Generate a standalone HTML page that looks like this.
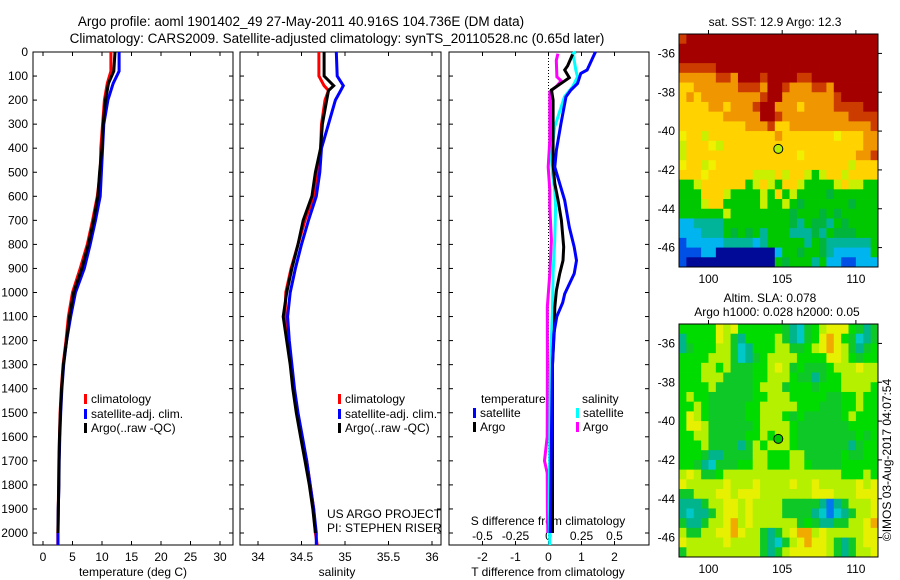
<!DOCTYPE html>
<html><head><meta charset="utf-8"><style>
html,body{margin:0;padding:0;background:#fff;}
svg{display:block;font-family:"Liberation Sans",sans-serif;}
</style></head><body>
<svg id="fig" width="900" height="580" viewBox="0 0 900 580" xmlns="http://www.w3.org/2000/svg">
<rect width="900" height="580" fill="#fff"/>
<text x="301" y="26" font-size="13.5" text-anchor="middle">Argo profile: aoml 1901402_49 27-May-2011 40.916S 104.736E (DM data)</text>
<text x="337" y="43" font-size="13.5" text-anchor="middle">Climatology: CARS2009. Satellite-adjusted climatology: synTS_20110528.nc (0.65d later)</text>
<g id="g-axes"></g>
<g id="g-lines"></g>
<g id="g-maps"></g>
</svg>
<script>
// ---------- data ----------
const depthTicks = [0,100,200,300,400,500,600,700,800,900,1000,1100,1200,1300,1400,1500,1600,1700,1800,1900,2000];
const tTicks = [0,5,10,15,20,25,30];
const sTicks = [34,34.5,35,35.5,36];
const sTickLabels = ["34","34.5","35","35.5","36"];
const dTicks = [-2,-1,0,1,2];
const dsTicks = [-0.5,-0.25,0,0.25,0.5];
const dsTickLabels = ["-0.5","-0.25","0","0.25","0.5"];

const profDepth = [0,80,130,200,300,400,500,600,700,800,900,1000,1100,1200,1300,1400,1500,1600,1700,1800,1900,2000,2050];
const tempClim = [11.5,11.5,10.9,10.4,10.1,9.8,9.7,9.2,8.4,7.5,6.3,5.0,4.3,3.9,3.4,3.1,2.9,2.8,2.7,2.65,2.6,2.5,2.5];
const tempSat  = [12.9,12.9,11.9,11.0,10.3,10.1,9.9,9.7,8.9,8.0,7.0,5.5,4.7,4.0,3.5,3.2,3.0,2.85,2.75,2.7,2.6,2.55,2.55];
const tempArgo = [12.2,12.0,11.1,10.6,10.2,10.0,9.6,9.3,8.6,7.7,6.6,5.2,4.5,4.0,3.45,3.15,2.95,2.8,2.72,2.68,2.6,2.55,null];

const salDepth = [0,100,140,160,200,300,400,500,600,700,800,900,1000,1100,1200,1300,1400,1500,1600,1700,1800,1900,2000,2050];
const salClim = [34.70,34.70,34.76,34.81,34.77,34.73,34.72,34.69,34.64,34.54,34.46,34.38,34.32,34.31,34.35,34.38,34.41,34.45,34.50,34.56,34.60,34.64,34.66,34.68];
const salSat  = [34.90,34.91,34.98,34.95,34.89,34.81,34.73,34.71,34.67,34.58,34.50,34.43,34.37,34.34,34.36,34.39,34.42,34.46,34.51,34.56,34.60,34.64,34.67,34.67];
const salArgo = [34.76,34.76,34.87,34.81,34.79,34.74,34.72,34.66,34.62,34.52,34.46,34.39,34.33,34.29,34.33,34.37,34.40,34.44,34.49,34.54,34.59,34.63,34.66,null];

const dtSatDepth = [0,75,89,131,158,186,297,408,478,547,617,728,811,867,922,1006,1042,1100,1172,1300,1500,1700,1900,2000];
const dtSat = [1.42,1.17,0.98,0.88,0.68,0.53,0.38,0.24,0.19,0.34,0.49,0.63,0.78,0.85,0.78,0.49,0.43,0.25,0.16,0.12,0.10,0.08,0.06,0.05];
const dtArgoDepth = [10,58,75,107,158,200,470,547,617,700,811,867,922,992,1061,1150,1300,1500,1700,1900,2000];
const dtArgo = [0.73,0.58,0.49,0.63,0.09,0.14,0.14,0.19,0.29,0.39,0.46,0.44,0.34,0.24,0.19,0.18,0.12,0.12,0.12,0.12,0.12];
const dsSatDepth = [0,7,35,75,103,144,186,228,311,367,436,506,575,644,783,922,1061,1300,1600,1900,2050];
const dsSat = [0.207,0.183,0.195,0.207,0.22,0.183,0.121,0.096,0.047,0.035,0.022,0.03,0.047,0.054,0.047,0.035,0.03,0.015,0.01,0.005,0.01];
const dsArgoDepth = [7,35,103,120,144,165,228,367,478,575,644,783,922,1061,1300,1600,1700,1750,1900,2000];
const dsArgo = [0.071,0.059,0.064,0.096,0.059,0.01,0.01,0.01,-0.002,0.01,0.01,0.022,0.01,-0.009,-0.008,-0.01,-0.03,-0.01,-0.008,-0.005];

const mapLonTicks = [100,105,110];
const mapLatTicks = [-36,-38,-40,-42,-44,-46];
const floatLon = 104.736, floatLat = -40.916;
// SST map grid: 27 cols (98..111.5, 0.5 deg) x 24 rows (-35..-47)
const sstGrid = [
"rRRRRRRRRRRRRRRRRRRRRRRRRRR",
"RRRRRRRRRRRRRRRRRRRRRRRRRRR",
"RRRRRRRRRRRRRRRRRRRRRRRRRRR",
"rrrrrRRRRRRRRRRRRRRRRRRRRRR",
"ooooorroRRRrRRRRrrRRRRRRRRR",
"yyoooooorrroRRrooorroRRRRRR",
"yoyoooooooorRRooooooorRRRRR",
"yyyyooyooorRRoooyoooorrrrRR",
"yyyyyyoooooRRrooooooooorrrr",
"yyyyyyyyyoooryyooooooooooor",
"YyylyyyyyyyyyoyyyyyyyYyyyoo",
"lyyyYlyyyyyyyyyyyyyyyyyyyoo",
"lyyyyyyyyyyyyyyyYyyyyyyyoor",
"YyylYyyyyyyyyyyyyyyyyyylyyy",
"yyyYyyyyyylllylyylglyylyyyy",
"gglyyyyyyglylgyylgggglyllgg",
"gggyyylgggglgyglggggGgggggg",
"ggglyyggggglgglgGggggggGggg",
"gggggglggggggggGgggGgGggggg",
"ccttttgggggggggGtgGGtgGgggg",
"ccctttgGgGgtgggtttGtgGGGggg",
"bcccccttttctgggggtgGttttttg",
"bbbccnnnnnnnncggGggGtcccccg",
"bnnnnnnnnnnnngGgggtgccbbccc"];
const sstColors = {R:"#a50000",r:"#cc3c00",o:"#f09600",y:"#ffd200",Y:"#f0f000",l:"#c8f000",g:"#00c800",G:"#00b43c",t:"#00b49a",c:"#00b4f0",b:"#0050e6",n:"#000a96"};
const slaGrid = [
"gggggylyggggggGtcGglyyygGtG",
"tggggylGtgggglGtcGgyoygGctG",
"tGgggllGctgggllGGglyoylGtGg",
"gggglllGctGgllllggggyylgGgg",
"gggllglGGGgglylGgGGGglllyll",
"ggglllGGGGgglllgGGtGgglllll",
"gggglGGGGGglllGgggGgggllllg",
"glggGGGGGGgglllgggggGGgglgg",
"gglgGGGGGgglllllgggGGGgglgg",
"gylgGGGGGgglllgGgGGGGGglggg",
"gyylGGGGGGgllllgGGGGGGGgggg",
"ggllGGGGGgglgllgGGGGGGGGgGg",
"ggglGGGGtGlglllgGGGGGGGtGgg",
"gggGttGGGGllgggllGGGGGgGGgg",
"ggGtcGGGggllgggllgGGGGggggg",
"lylGGgllllllllllllllllggglg",
"ylllllylllyllllyllylllllyly",
"GGlllyylyyylllllllyyylllyyy",
"tttGllyylyllllGGGGGtbtGllly",
"tcttGlyylyllllGGGGtcbctGlly",
"GttGllyolyllllllGgGttGGllyo",
"lGGllyyoyllGtGlyoolylllllyy",
"ylllllyllllGtcGlyoyylGtGlyy",
"GllllllllllGtGlyyyyylGtGlly"];
const slaColors = {G:"#0ec828",g:"#00dc00",l:"#b4f000",y:"#e6f000",o:"#f0aa00",t:"#00b48c",c:"#00c8c8",b:"#0078f0"};

// ---------- helpers ----------
const NS="http://www.w3.org/2000/svg";
function mk(tag, attrs, parent){const e=document.createElementNS(NS,tag);for(const k in attrs)e.setAttribute(k,attrs[k]);parent.appendChild(e);return e;}
const gA=document.getElementById('g-axes'), gL=document.getElementById('g-lines'), gM=document.getElementById('g-maps');
const TOP=52, BOT=545;
const yD = d => TOP + d*0.2405;
const xT = t => 43 + t*5.9;
const xS = s => 258 + (s-34)*87;
const xDT = t => 548.5 + t*33;
const xDS = s => 548.5 + s*132;
const panels=[{x0:33,x1:233},{x0:240,x1:441},{x0:449,x1:649}];

panels.forEach((p,i)=>{
  const r=mk('rect',{x:p.x0,y:TOP,width:p.x1-p.x0,height:BOT-TOP,fill:'none',stroke:'#000','stroke-width':1},gA);
  
  
  depthTicks.forEach(d=>{
    mk('line',{x1:p.x0,x2:p.x0+4,y1:yD(d),y2:yD(d),stroke:'#000'},gA);
    mk('line',{x1:p.x1,x2:p.x1-4,y1:yD(d),y2:yD(d),stroke:'#000'},gA);
  });
});
depthTicks.forEach(d=>{
  const t=mk('text',{x:28,y:yD(d)+4,'font-size':12,'text-anchor':'end'},gA);
  t.textContent=d;
  
  
});
function xticks(vals,labels,f,p,ly){
  vals.forEach((v,i)=>{
    const x=f(v);
    mk('line',{x1:x,x2:x,y1:TOP,y2:TOP+4,stroke:'#000'},gA);
    mk('line',{x1:x,x2:x,y1:BOT,y2:BOT-4,stroke:'#000'},gA);
    if(ly){const t=mk('text',{x:x,y:ly,'font-size':12,'text-anchor':'middle'},gA);
    t.textContent=labels[i];
    
    }
  });
}
xticks(tTicks,tTicks.map(String),xT,panels[0],561);
xticks(sTicks,sTickLabels,xS,panels[1],561);
xticks(dTicks,dTicks.map(String),xDT,panels[2],561);
dsTicks.forEach((v,i)=>{
  const t=mk('text',{x:xDS(v),y:540,'font-size':12,'text-anchor':'middle'},gA);
  t.textContent=dsTickLabels[i];
  
  
});
function label(x,y,txt,name,anchor){const t=mk('text',{x:x,y:y,'font-size':12,'text-anchor':anchor||'middle'},gA);t.textContent=txt;
  
  return t;}
label(133,576,'temperature (deg C)','x-axis-title-temperature');
label(337,576,'salinity','x-axis-title-salinity');
label(548,576,'T difference from climatology','x-axis-title-t-diff');
label(548,525,'S difference from climatology','x-axis-title-s-diff');
label(327,518,'US ARGO PROJECT','project-label','start');
label(327,532,'PI: STEPHEN RISER','pi-label','start');
const zl=mk('line',{x1:xDT(0),x2:xDT(0),y1:TOP,y2:BOT,stroke:'#000','stroke-dasharray':'1,2'},gA);



function poly(xs,ds,fx,color,name){
  const pts=[];xs.forEach((v,i)=>{if(v!==null)pts.push(fx(v).toFixed(1)+','+yD(ds[i]).toFixed(1));});
  const l=mk('polyline',{points:pts.join(' '),fill:'none',stroke:color,'stroke-width':3,'stroke-linejoin':'miter'},gL);
  
  
}
poly(tempClim,profDepth,xT,'#ff0000','temp-climatology-line');
poly(tempSat,profDepth,xT,'#0000ff','temp-satellite-line');
poly(tempArgo,profDepth,xT,'#000000','temp-argo-line');
poly(salClim,salDepth,xS,'#ff0000','sal-climatology-line');
poly(salSat,salDepth,xS,'#0000ff','sal-satellite-line');
poly(salArgo,salDepth,xS,'#000000','sal-argo-line');
poly(dsArgo,dsArgoDepth,xDS,'#ff00ff','sdiff-argo-line');
poly(dsSat,dsSatDepth,xDS,'#00ffff','sdiff-satellite-line');
poly(dtArgo,dtArgoDepth,xDT,'#000000','tdiff-argo-line');
poly(dtSat,dtSatDepth,xDT,'#0000ff','tdiff-satellite-line');

function legend(x,y,color,txt,name){
  const g=mk('g',{},gA);
  
  
  mk('rect',{x:x,y:y-9,width:3,height:10,fill:color},g);
  const t=mk('text',{x:x+7,y:y,'font-size':12},g);t.textContent=txt;
}
legend(84,403,'#ff0000','climatology','legend-temp-climatology');
legend(84,418,'#0000ff','satellite-adj. clim.','legend-temp-satellite');
legend(84,432,'#000','Argo(..raw -QC)','legend-temp-argo');
legend(338,403,'#ff0000','climatology','legend-sal-climatology');
legend(338,418,'#0000ff','satellite-adj. clim.','legend-sal-satellite');
legend(338,432,'#000','Argo(..raw -QC)','legend-sal-argo');
label(481,403,'temperature','legend-heading-temperature','start');
label(582,403,'salinity','legend-heading-salinity','start');
legend(473,417,'#0000ff','satellite','legend-tdiff-satellite');
legend(473,431,'#000','Argo','legend-tdiff-argo');
legend(576,417,'#00ffff','satellite','legend-sdiff-satellite');
legend(576,431,'#ff00ff','Argo','legend-sdiff-argo');

// ---------- maps ----------
const MX0=679, MX1=878;
const mxL = lon => MX0 + (lon-98)*(MX1-MX0)/13.5;
function drawMap(top,grid,colors,name,dotColor){
  const bot=top+233;
  const myL = lat => top + (-35-lat)*(bot-top)/12;
  const g=mk('g',{},gM);
  
  
  const cw=(MX1-MX0)/27, ch=(bot-top)/24;
  grid.forEach((row,r)=>{for(let c=0;c<row.length;c++){
    mk('rect',{x:(MX0+c*cw).toFixed(2),y:(top+r*ch).toFixed(2),width:(cw+0.4).toFixed(2),height:(ch+0.4).toFixed(2),fill:colors[row[c]]},g);
  }});
  mk('rect',{x:MX0,y:top,width:MX1-MX0,height:bot-top,fill:'none',stroke:'#000'},g);
  mapLatTicks.forEach(l=>{
    const y=myL(l);
    mk('line',{x1:MX1,x2:MX1+4,y1:y,y2:y,stroke:'#000'},g);
    const t=mk('text',{x:675,y:y+4,'font-size':12,'text-anchor':'end'},g);t.textContent=l;
  });
  mapLonTicks.forEach(l=>{
    const x=mxL(l);
    mk('line',{x1:x,x2:x,y1:top,y2:top-4,stroke:'#000'},g);
    const t=mk('text',{x:x,y:bot+16,'font-size':12,'text-anchor':'middle'},g);t.textContent=l;
  });
  const dot=mk('circle',{cx:mxL(floatLon),cy:myL(floatLat),r:4.5,fill:dotColor,stroke:'#000','stroke-width':1},g);
  
  
}
drawMap(34,sstGrid,sstColors,'sst-map','#b4f000');
drawMap(324,slaGrid,slaColors,'sla-map','#00c800');
label(775,26,'sat. SST: 12.9  Argo: 12.3','sst-map-title');
label(770,302,'Altim. SLA: 0.078','sla-map-title-line1');
label(777,316,'Argo h1000: 0.028 h2000: 0.05','sla-map-title-line2');
const rt=label(0,0,'©IMOS 03-Aug-2017 04:07:54','timestamp-label');
rt.setAttribute('transform','translate(891,460) rotate(-90)');
</script>
</body></html>
